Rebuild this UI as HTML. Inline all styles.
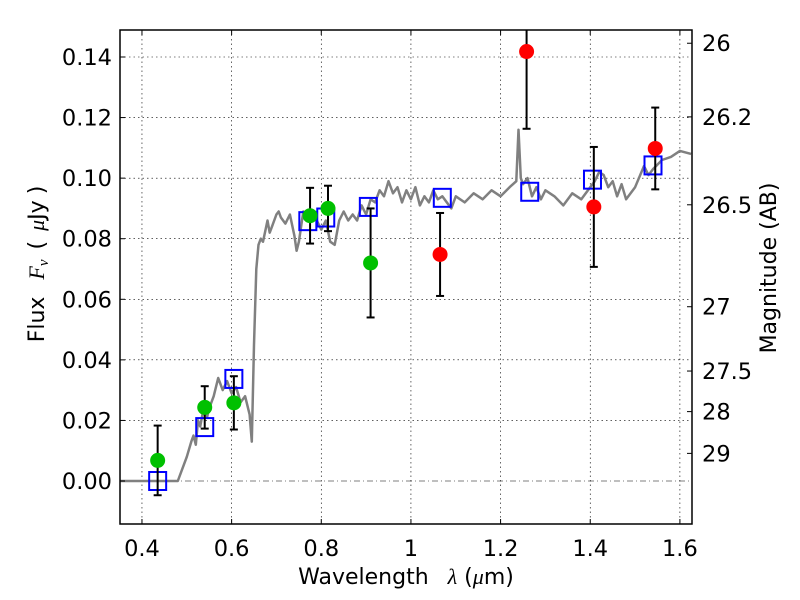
<!DOCTYPE html>
<html><head><meta charset="utf-8"><style>
body{margin:0;background:#fff;}
svg{display:block;font-family:"DejaVu Sans","Liberation Sans",sans-serif;}
</style></head><body>
<svg id="chart" width="800" height="600" viewBox="0 0 800 600" xmlns="http://www.w3.org/2000/svg">
<rect width="800" height="600" fill="#fff"/>
<g id="grid"></g>
<g id="series"></g>
<g id="axes"></g>
</svg>
<script>
const specWave = [0.35,0.40,0.45,0.48,0.50,0.51,0.515,0.52,0.525,0.53,0.54,0.545,0.55,0.56,0.57,0.58,0.59,0.60,0.61,0.62,0.63,0.64,0.645,0.65,0.655,0.66,0.665,0.67,0.68,0.685,0.69,0.70,0.705,0.71,0.72,0.73,0.74,0.745,0.75,0.76,0.77,0.78,0.79,0.80,0.81,0.82,0.83,0.84,0.85,0.86,0.87,0.88,0.89,0.90,0.91,0.92,0.93,0.94,0.95,0.96,0.97,0.98,0.99,1.00,1.01,1.02,1.03,1.04,1.05,1.06,1.07,1.08,1.09,1.10,1.12,1.14,1.16,1.18,1.20,1.22,1.235,1.24,1.245,1.25,1.26,1.27,1.28,1.29,1.30,1.32,1.34,1.36,1.38,1.40,1.41,1.42,1.43,1.44,1.45,1.46,1.47,1.48,1.50,1.52,1.53,1.54,1.56,1.58,1.60,1.625];
const specFlux = [0,0,0,0,0.008,0.013,0.015,0.012,0.02,0.018,0.026,0.021,0.024,0.028,0.034,0.03,0.033,0.029,0.031,0.026,0.028,0.022,0.013,0.045,0.07,0.078,0.08,0.079,0.086,0.082,0.084,0.088,0.089,0.087,0.085,0.088,0.081,0.076,0.079,0.089,0.087,0.088,0.086,0.083,0.086,0.079,0.078,0.086,0.089,0.086,0.088,0.086,0.091,0.088,0.093,0.092,0.096,0.094,0.099,0.095,0.097,0.092,0.096,0.093,0.097,0.091,0.094,0.092,0.096,0.093,0.094,0.092,0.090,0.094,0.092,0.095,0.093,0.096,0.094,0.097,0.099,0.116,0.1,0.098,0.1,0.094,0.097,0.093,0.096,0.094,0.091,0.095,0.093,0.097,0.099,0.102,0.101,0.097,0.099,0.094,0.098,0.093,0.097,0.104,0.101,0.103,0.106,0.107,0.109,0.108];
const greenWave = [0.435,0.54,0.605,0.775,0.815,0.91];
const greenFlux = [0.0068,0.0243,0.0258,0.0876,0.0900,0.0720];
const greenErr = [0.0115,0.0070,0.0088,0.0092,0.0075,0.0180];
const redWave = [1.065,1.258,1.408,1.545];
const redFlux = [0.0748,0.1418,0.0905,0.1098];
const redErr = [0.0137,0.0255,0.0198,0.0135];
const modelWave = [0.435,0.54,0.605,0.77,0.81,0.905,1.07,1.265,1.405,1.54];
const modelFlux = [0.0,0.0178,0.0337,0.0858,0.0870,0.0905,0.0935,0.0955,0.0995,0.1042];
const xTicks = [0.4,0.6,0.8,1.0,1.2,1.4,1.6];
const xTickLabels = ["0.4","0.6","0.8","1","1.2","1.4","1.6"];
const yTicks = [0,0.02,0.04,0.06,0.08,0.10,0.12,0.14];
const yTickLabels = ["0.00","0.02","0.04","0.06","0.08","0.10","0.12","0.14"];
const magTicks = [26,26.2,26.5,27,27.5,28,29];
const magTickLabels = ["26","26.2","26.5","27","27.5","28","29"];

const L=120,R=692,T=30,B=524;
const xmin=0.351,xmax=1.627;
const Y0=481,Y14=57;
function xs(v){return L+(v-xmin)/(xmax-xmin)*(R-L);}
function ys(v){return Y0+(v/0.14)*(Y14-Y0);}
function magToFlux(m){return Math.pow(10,(23.9-m)/2.5);}
const NS="http://www.w3.org/2000/svg";
function mk(tag,attrs,parent){const e=document.createElementNS(NS,tag);for(const k in attrs)e.setAttribute(k,attrs[k]);parent.appendChild(e);return e;}
const grid=document.getElementById('grid'),ser=document.getElementById('series'),ax=document.getElementById('axes');
const FS=22.5;
xTicks.forEach((t,i)=>{
  const x=xs(t);
  const g=mk('line',{x1:x,x2:x,y1:T,y2:B,stroke:'#000','stroke-width':0.6,'stroke-dasharray':'1.5,3'},grid);
  
  
  const a=mk('line',{x1:x,x2:x,y1:B,y2:B-5,stroke:'#000','stroke-width':1},ax);
  
  
  const b=mk('line',{x1:x,x2:x,y1:T,y2:T+5,stroke:'#000','stroke-width':1},ax);
  
  
  const tx=mk('text',{x:x,y:B+32,'text-anchor':'middle','font-size':FS},ax);
  tx.textContent=xTickLabels[i];
  
  
});
yTicks.forEach((t,i)=>{
  const y=ys(t);
  const g=mk('line',{x1:L,x2:R,y1:y,y2:y,stroke:'#000','stroke-width':0.6,'stroke-dasharray':t===0?'6,3,1,3':'1.5,3'},grid);
  
  
  const a=mk('line',{x1:L,x2:L+5,y1:y,y2:y,stroke:'#000','stroke-width':1},ax);
  
  
  const tx=mk('text',{x:L-8,y:y+8,'text-anchor':'end','font-size':FS},ax);
  tx.textContent=yTickLabels[i];
  
  
});
magTicks.forEach((m,i)=>{
  const y=ys(magToFlux(m));
  const a=mk('line',{x1:R-5,x2:R,y1:y,y2:y,stroke:'#000','stroke-width':1},ax);
  
  
  const tx=mk('text',{x:R+10,y:y+8,'font-size':FS},ax);
  tx.textContent=magTickLabels[i];
  
  
});

const clip=mk('clipPath',{id:'pc'},ser);
mk('rect',{x:L,y:T,width:R-L,height:B-T},clip);
const gs=mk('g',{'clip-path':'url(#pc)'},ser);
const pts=specWave.map((w,i)=>xs(w).toFixed(1)+','+ys(specFlux[i]).toFixed(1)).join(' ');
const sp=mk('polyline',{points:pts,fill:'none',stroke:'#808080','stroke-width':2.5,'stroke-linejoin':'round'},gs);



function errbar(w,f,e,name){
  const x=xs(w),y1=ys(f-e),y2=ys(f+e);
  const l=mk('line',{x1:x,x2:x,y1:y1,y2:y2,stroke:'#000','stroke-width':2},gs);
  
  
  [y1,y2].forEach(y=>{const c=mk('line',{x1:x-4,x2:x+4,y1:y,y2:y,stroke:'#000','stroke-width':2},gs);
  
  });
}
modelWave.forEach((w,i)=>{
  const r=mk('rect',{x:xs(w)-8.5,y:ys(modelFlux[i])-9,width:17,height:18,fill:'none',stroke:'#0000ff','stroke-width':2},gs);
  
  
});
greenWave.forEach((w,i)=>{
  errbar(w,greenFlux[i],greenErr[i],'green-errorbar');
  const c=mk('circle',{cx:xs(w),cy:ys(greenFlux[i]),r:7.5,fill:'#00c000'},gs);
  
  
});
redWave.forEach((w,i)=>{
  errbar(w,redFlux[i],redErr[i],'red-errorbar');
  const c=mk('circle',{cx:xs(w),cy:ys(redFlux[i]),r:7.5,fill:'#ff0000'},gs);
  
  
});

const fr=mk('rect',{x:L,y:T,width:R-L,height:B-T,fill:'none',stroke:'#000','stroke-width':1.5},ax);


const xl=mk('text',{x:406,y:584,'text-anchor':'middle','font-size':22},ax);
xl.innerHTML='Wavelength <tspan font-family="Liberation Serif" font-style="italic" dx="12">λ</tspan> (<tspan font-family="Liberation Serif" font-style="italic">μ</tspan>m)';


const yl=mk('text',{x:0,y:0,'text-anchor':'middle','font-size':22,transform:'translate(44,264) rotate(-90)'},ax);
yl.innerHTML='Flux <tspan font-family="Liberation Serif" font-style="italic" dx="10">F</tspan><tspan font-family="Liberation Serif" font-style="italic" font-size="15" dy="4">ν</tspan><tspan dy="-4" dx="10">(</tspan><tspan font-family="Liberation Serif" font-style="italic" dx="10">μ</tspan>Jy<tspan dx="6">)</tspan>';


const ml=mk('text',{x:0,y:0,'text-anchor':'middle','font-size':22,transform:'translate(776,268) rotate(-90)'},ax);
ml.textContent='Magnitude (AB)';


</script>
</body></html>
